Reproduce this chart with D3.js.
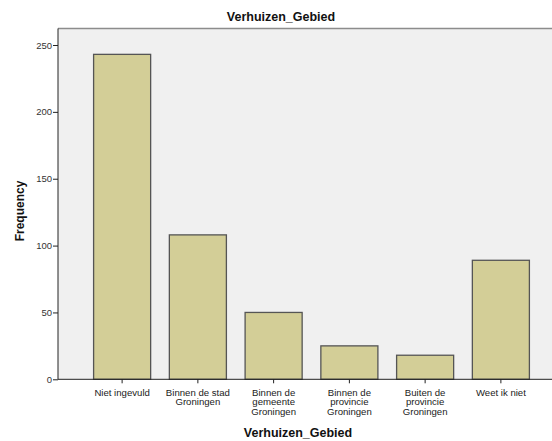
<!DOCTYPE html>
<html><head><meta charset="utf-8">
<script src="https://cdn.jsdelivr.net/npm/d3@7"></script>
<style>body{margin:0;background:#fff}svg{display:block}text{font-family:"Liberation Sans",Arial,sans-serif}</style>
</head><body>
<svg id="c" width="552" height="441"></svg>
<script>
const categories = [
  ["Niet ingevuld"],
  ["Binnen de stad","Groningen"],
  ["Binnen de","gemeente","Groningen"],
  ["Binnen de","provincie","Groningen"],
  ["Buiten de","provincie","Groningen"],
  ["Weet ik niet"]
];
const frequencies = [243, 108, 50, 25, 18, 89];
const yTicks = [0, 50, 100, 150, 200, 250];

(function () {
const svg = d3.select("#c");
const pLeft = 58, pTop = 28.5, pBottom = 379.3, pRight = 565;
const y = d3.scaleLinear().domain([0, 250]).range([pBottom, 45]);
const x = d3.scaleBand().domain(d3.range(categories.length))
  .range([pLeft, pRight]).paddingInner(0.247).paddingOuter(0.47);

// plot background
svg.append("rect").attr("x", pLeft).attr("y", pTop).attr("width", 552 - pLeft).attr("height", pBottom - pTop)
  .attr("fill", "#f0f0f0");
svg.append("line").attr("x1", pLeft).attr("x2", 552).attr("y1", pTop).attr("y2", pTop)
  .attr("stroke", "#8c8c8c").attr("stroke-width", 1.5);

// bars
svg.append("g").selectAll("rect").data(frequencies).join("rect")
  .attr("x", (d, i) => x(i)).attr("width", x.bandwidth())
  .attr("y", d => y(d)).attr("height", d => y(0) - y(d))
  .attr("fill", "#d3ce97").attr("stroke", "#555").attr("stroke-width", 1.3);

// y axis
const ya = svg.append("g").attr("transform", `translate(${pLeft},0)`)
  .call(d3.axisLeft(y).tickValues(yTicks).tickSize(5).tickPadding(1).tickFormat(d3.format("d")));
ya.select(".domain").attr("d", `M0,${pTop}V${pBottom}`).attr("stroke", "#222");
ya.selectAll("text").attr("font-size", 9.5).attr("fill", "#333").attr("font-family", '"Liberation Sans",Arial,sans-serif');
ya.selectAll("line").attr("stroke", "#222");

// x axis
const xa = svg.append("g").attr("transform", `translate(0,${pBottom})`)
  .call(d3.axisBottom(x).tickSize(4).tickFormat(""));
xa.select(".domain").attr("d", `M${pLeft},0H552`).attr("stroke", "#222");
xa.selectAll("line").attr("stroke", "#222");
xa.selectAll(".tick").each(function(d) {
  const t = d3.select(this).append("text").attr("fill", "#222").attr("font-size", 9.6)
    .attr("text-anchor", "middle").attr("y", 16.5);
  categories[d].forEach((s, k) => t.append("tspan").attr("x", 0).attr("dy", k ? 9.6 : 0).text(s));
});

// titles
svg.append("text").attr("x", 281).attr("y", 21).attr("text-anchor", "middle")
  .attr("font-size", 12.5).attr("font-weight", "bold").attr("fill", "#111").text("Verhuizen_Gebied");
svg.append("text").attr("x", 298).attr("y", 437).attr("text-anchor", "middle")
  .attr("font-size", 12.5).attr("font-weight", "bold").attr("fill", "#111").text("Verhuizen_Gebied");
svg.append("text").attr("transform", "translate(24,211) rotate(-90)").attr("text-anchor", "middle")
  .attr("font-size", 12).attr("font-weight", "bold").attr("fill", "#111").text("Frequency");
})();
</script>
</body></html>
